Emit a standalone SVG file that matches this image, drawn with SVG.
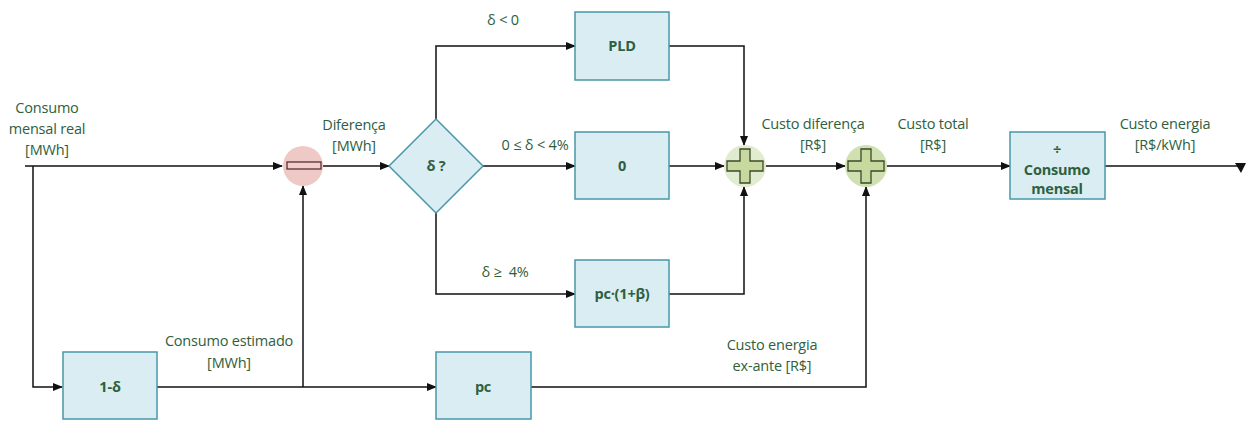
<svg xmlns="http://www.w3.org/2000/svg" width="1251" height="422" viewBox="0 0 1251 422">
<style>
.box{fill:#daedf3;stroke:#4a97a9;stroke-width:1.5}
.t{font-family:"Open Sans","Noto Sans",sans-serif;font-size:14.5px;fill:#2e6040;text-anchor:middle;letter-spacing:-0.2px}
.b{font-weight:bold}
.w{fill:none;stroke:#111;stroke-width:1.5}
</style>
<defs>
<marker id="ar" markerWidth="10" markerHeight="8" refX="9" refY="4" orient="auto" markerUnits="userSpaceOnUse">
<path d="M0,0 L10,4 L0,8 Z" fill="#111"/>
</marker>
</defs>
<rect width="1251" height="422" fill="#fff"/>
<g id="connectors">
<path class="w" d="M25,166 H282" marker-end="url(#ar)"/>
<path class="w" d="M33,166 V387 H62" marker-end="url(#ar)"/>
<path class="w" d="M157,387 H436" marker-end="url(#ar)"/>
<path class="w" d="M303,387 V186" marker-end="url(#ar)"/>
<path class="w" d="M323,166 H389" marker-end="url(#ar)"/>
<path class="w" d="M436,119 V46 H575" marker-end="url(#ar)"/>
<path class="w" d="M483,166 H575" marker-end="url(#ar)"/>
<path class="w" d="M436,213 V294 H575" marker-end="url(#ar)"/>
<path class="w" d="M669,46 H744 V145" marker-end="url(#ar)"/>
<path class="w" d="M669,166 H724" marker-end="url(#ar)"/>
<path class="w" d="M669,294 H744 V187" marker-end="url(#ar)"/>
<path class="w" d="M765,166 H845" marker-end="url(#ar)"/>
<path class="w" d="M531,387 H866 V187" marker-end="url(#ar)"/>
<path class="w" d="M887,166 H1010" marker-end="url(#ar)"/>
<path class="w" d="M1105,166 H1240"/>
<path d="M1235,163 H1246 L1241,173 Z" fill="#111"/>
</g>
<g id="sub">
<circle cx="303" cy="166" r="20" fill="#eec9c6"/>
<rect x="287" y="162" width="34" height="7" fill="#f2cfcc" stroke="#5a3030" stroke-width="1.3"/>
</g>
<g id="decision">
<path d="M436,119 L483,166 L436,213 L389,166 Z" class="box"/>
<text class="t b" x="436" y="171">δ ?</text>
</g>
<g id="pld">
<rect class="box" x="575" y="12" width="94" height="68"/>
<text class="t b" x="622" y="51">PLD</text>
</g>
<g id="zero">
<rect class="box" x="575" y="132" width="94" height="67"/>
<text class="t b" x="622" y="171">0</text>
</g>
<g id="pcbeta">
<rect class="box" x="575" y="260" width="94" height="67"/>
<text class="t b" x="622" y="299">pc·(1+β)</text>
</g>
<g id="sum1">
<circle cx="745" cy="166" r="21" fill="#e1ebcf"/>
<path d="M740,149 H750 V161 H763 V171 H750 V183 H740 V171 H727 V161 H740 Z" fill="#c7d99f" stroke="#3b4a2a" stroke-width="1.3"/>
</g>
<g id="sum2">
<circle cx="866" cy="166" r="21" fill="#d1e0b0"/>
<path d="M861,149 H871 V161 H884 V171 H871 V183 H861 V171 H848 V161 H861 Z" fill="#c7d99f" stroke="#3b4a2a" stroke-width="1.3"/>
</g>
<g id="div">
<rect class="box" x="1010" y="132" width="95" height="67"/>
<text class="t b" x="1057" y="155">÷</text>
<text class="t b" x="1057" y="175">Consumo</text>
<text class="t b" x="1057" y="194">mensal</text>
</g>
<g id="onemd">
<rect class="box" x="63" y="352" width="94" height="67"/>
<text class="t b" x="110" y="392">1-δ</text>
</g>
<g id="pc">
<rect class="box" x="436" y="352" width="95" height="67"/>
<text class="t b" x="483" y="392">pc</text>
</g>
<g id="labels">
<text class="t" x="47" y="113">Consumo</text>
<text class="t" x="47" y="134">mensal real</text>
<text class="t" x="47" y="155">[MWh]</text>
<text class="t" x="354" y="130">Diferença</text>
<text class="t" x="354" y="151">[MWh]</text>
<text class="t" x="503" y="25">δ &lt; 0</text>
<text class="t" x="535" y="150">0 ≤ δ &lt; 4%</text>
<text class="t" x="505" y="277">δ ≥&#160; 4%</text>
<text class="t" x="813" y="129">Custo diferença</text>
<text class="t" x="813" y="150">[R$]</text>
<text class="t" x="933" y="129">Custo total</text>
<text class="t" x="933" y="150">[R$]</text>
<text class="t" x="1165" y="129">Custo energia</text>
<text class="t" x="1165" y="150">[R$/kWh]</text>
<text class="t" x="229" y="346">Consumo estimado</text>
<text class="t" x="229" y="368">[MWh]</text>
<text class="t" x="772" y="350">Custo energia</text>
<text class="t" x="772" y="371">ex-ante [R$]</text>
</g>
</svg>
